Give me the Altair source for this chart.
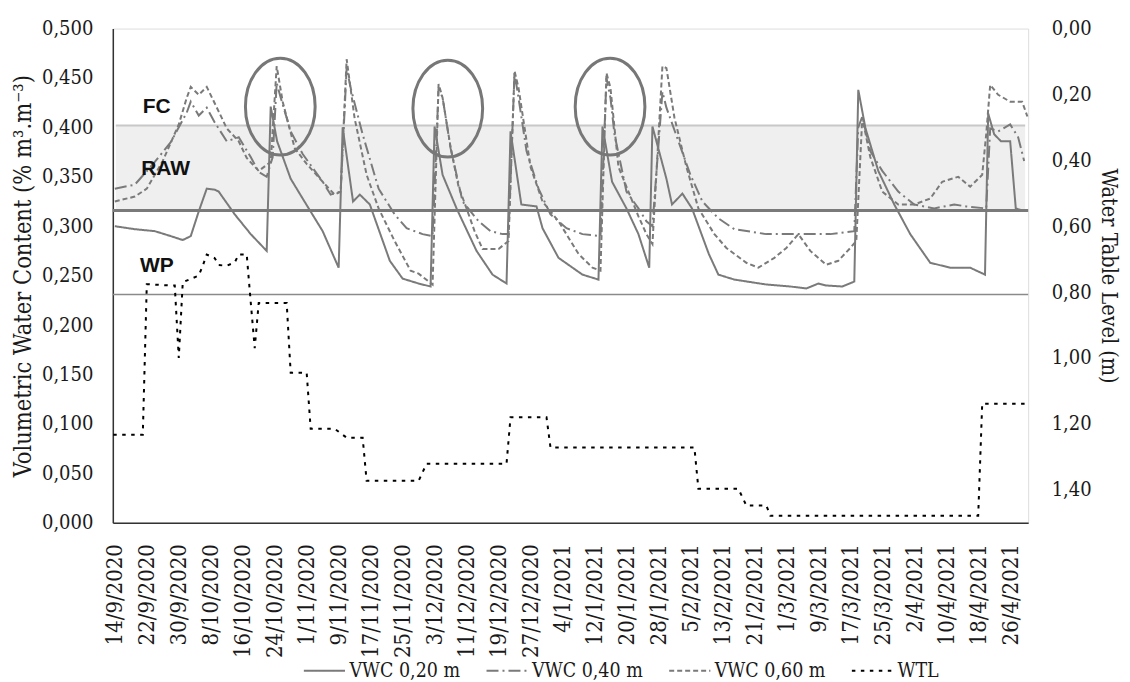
import altair as alt
import pandas as pd

SERIF = "DejaVu Serif Condensed, DejaVu Serif"
SANS = "Liberation Sans"
START = "2020-09-14"

SERIES = ["VWC 0,20 m", "VWC 0,40 m", "VWC 0,60 m", "WTL"]

# day offsets from 14/9/2020 and values
VWC020_DAYS = [0, 5, 10, 14, 17, 19, 21, 23, 25, 26, 30, 34, 38, 39, 40.6, 44, 47, 52, 56, 57,
               59.6, 61.3, 63.8, 68.8, 72, 76, 79, 80, 82, 85.5, 90.5, 94.5, 98, 99, 101.7,
               105.5, 107, 111, 117, 121, 122, 124.4, 128, 131, 133.7, 134.5, 138, 139.4, 142,
               144.4, 148.6, 151, 155, 163, 169, 173, 176, 178, 182, 185, 186, 187.8, 191, 195,
               199, 204, 209, 214, 217.7, 218.5, 220, 221.7, 224, 225.4, 227]
VWC020_VALS = [0.300, 0.297, 0.295, 0.290, 0.286, 0.290, 0.315, 0.338, 0.337, 0.335, 0.312, 0.292,
               0.275, 0.421, 0.386, 0.348, 0.328, 0.295, 0.258, 0.400, 0.325, 0.332, 0.322, 0.265,
               0.247, 0.242, 0.239, 0.401, 0.352, 0.318, 0.275, 0.251, 0.242, 0.396, 0.322, 0.320,
               0.298, 0.268, 0.251, 0.246, 0.401, 0.345, 0.318, 0.292, 0.258, 0.401, 0.348, 0.322,
               0.333, 0.318, 0.272, 0.251, 0.246, 0.241, 0.239, 0.237, 0.242, 0.240, 0.239, 0.244,
               0.438, 0.399, 0.356, 0.322, 0.292, 0.263, 0.258, 0.258, 0.251, 0.414, 0.393, 0.386,
               0.386, 0.318, 0.316]

VWC040_DAYS = [0, 5, 10, 14, 18, 19, 21, 23, 25, 28, 31, 34, 36, 38, 39.5, 40.5, 41.5, 44, 47, 52,
               54, 56.5, 58, 59, 62, 66, 70, 73, 77, 79.5, 81, 82, 84, 87, 91, 94, 97, 98.5, 100,
               101, 103, 106, 109, 113, 117, 121.5, 123, 124, 125, 128, 131, 133, 134.5, 137, 138,
               141, 144, 147, 151, 155, 163, 171, 179, 185, 186, 187, 189, 192, 196, 200, 205,
               210, 213, 218, 219, 221, 224, 226, 227.5]
VWC040_VALS = [0.338, 0.342, 0.365, 0.385, 0.415, 0.426, 0.412, 0.420, 0.405, 0.386, 0.390, 0.370,
               0.355, 0.350, 0.370, 0.445, 0.430, 0.396, 0.373, 0.345, 0.332, 0.335, 0.460, 0.440,
               0.393, 0.338, 0.312, 0.298, 0.292, 0.290, 0.440, 0.430, 0.379, 0.325, 0.305, 0.295,
               0.292, 0.292, 0.455, 0.430, 0.376, 0.338, 0.312, 0.298, 0.292, 0.290, 0.450, 0.430,
               0.393, 0.335, 0.318, 0.305, 0.300, 0.436, 0.420, 0.386, 0.352, 0.325, 0.308, 0.297,
               0.292, 0.292, 0.292, 0.295, 0.400, 0.411, 0.376, 0.356, 0.335, 0.322, 0.318, 0.322,
               0.320, 0.318, 0.399, 0.396, 0.403, 0.390, 0.366]

VWC060_DAYS = [0, 5, 8, 12, 16, 18, 19, 21, 23, 26, 28, 31, 33, 36, 39, 40.5, 42, 45, 48, 52, 55,
               56.5, 58, 60, 63, 66, 70, 74, 76, 79.5, 81, 82, 84, 86, 88, 90, 92, 96, 98.5, 100,
               101, 104, 107, 111, 116, 119.5, 121.5, 123, 124, 126, 129, 131, 133, 134.5, 137,
               138, 140, 143, 146, 150, 153, 158, 161, 165, 168, 171, 174, 178, 181, 184, 185.5,
               187, 189, 192, 196, 200, 204, 207, 211, 214, 217, 218, 219, 221, 224, 227, 228.3]
VWC060_VALS = [0.325, 0.330, 0.338, 0.366, 0.403, 0.430, 0.441, 0.433, 0.441, 0.416, 0.399, 0.386,
               0.369, 0.356, 0.365, 0.462, 0.426, 0.379, 0.363, 0.345, 0.332, 0.335, 0.469, 0.409,
               0.352, 0.318, 0.285, 0.255, 0.252, 0.241, 0.444, 0.430, 0.380, 0.340, 0.318, 0.295,
               0.277, 0.277, 0.285, 0.457, 0.440, 0.360, 0.325, 0.305, 0.272, 0.258, 0.255, 0.455,
               0.440, 0.360, 0.330, 0.310, 0.292, 0.282, 0.462, 0.460, 0.410, 0.360, 0.318, 0.292,
               0.278, 0.263, 0.258, 0.268, 0.278, 0.292, 0.275, 0.261, 0.265, 0.278, 0.285, 0.410,
               0.370, 0.335, 0.322, 0.322, 0.328, 0.345, 0.350, 0.340, 0.352, 0.393, 0.443, 0.433,
               0.426, 0.426, 0.411]

WTL_DAYS = [-0.4, 7, 8, 14, 15, 16, 17, 19, 21, 22, 23, 25, 26, 28, 30, 31, 33, 34, 35, 36, 43,
            44, 48, 49, 55, 58, 62, 63, 76, 78, 98, 99, 108, 109, 145, 146, 156, 158, 163, 164,
            216, 217, 228.4]
WTL_VALS = [1.233, 1.233, 0.776, 0.780, 0.780, 1.000, 0.770, 0.760, 0.750, 0.720, 0.686, 0.697,
            0.718, 0.720, 0.710, 0.686, 0.686, 0.830, 0.970, 0.833, 0.833, 1.045, 1.045, 1.215,
            1.215, 1.242, 1.242, 1.373, 1.373, 1.321, 1.321, 1.180, 1.180, 1.272, 1.272, 1.397,
            1.397, 1.448, 1.448, 1.479, 1.479, 1.139, 1.139]

TICK_LABELS = ["14/9/2020", "22/9/2020", "30/9/2020", "8/10/2020", "16/10/2020", "24/10/2020",
               "1/11/2020", "9/11/2020", "17/11/2020", "25/11/2020", "3/12/2020", "11/12/2020",
               "19/12/2020", "27/12/2020", "4/1/2021", "12/1/2021", "20/1/2021", "28/1/2021",
               "5/2/2021", "13/2/2021", "21/2/2021", "1/3/2021", "9/3/2021", "17/3/2021",
               "25/3/2021", "2/4/2021", "10/4/2021", "18/4/2021", "26/4/2021"]

LEFT_TICKS = [0, 0.05, 0.1, 0.15, 0.2, 0.25, 0.3, 0.35, 0.4, 0.45, 0.5]
RIGHT_TICKS = [0, 0.2, 0.4, 0.6, 0.8, 1.0, 1.2, 1.4]

FC, RAW_LOW, WP = 0.402, 0.316, 0.231
LABEL_TEXT = ["FC", "RAW", "WP"]
LABEL_DAYS = [10.5, 12.7, 10.5]
LABEL_VALS = [0.421, 0.358, 0.260]

CIRCLE_DAYS = [41.4, 83.3, 123.9]
CIRCLE_VALS = [0.421, 0.419, 0.421]


def to_dates(days):
    t = pd.Timestamp(START) + pd.to_timedelta(days, unit="D")
    return list(t.strftime("%Y-%m-%dT%H:%M:%SZ"))


def frame(days, vals, name):
    return pd.DataFrame({"date": to_dates(days), "value": vals, "series": name})


vwc = pd.concat([
    frame(VWC020_DAYS, VWC020_VALS, SERIES[0]),
    frame(VWC040_DAYS, VWC040_VALS, SERIES[1]),
    frame(VWC060_DAYS, VWC060_VALS, SERIES[2]),
], ignore_index=True)
wtl = frame(WTL_DAYS, WTL_VALS, SERIES[3])
labels_df = pd.DataFrame({"date": to_dates(LABEL_DAYS), "value": LABEL_VALS, "text": LABEL_TEXT})
circles_df = pd.DataFrame({"date": to_dates(CIRCLE_DAYS), "value": CIRCLE_VALS})
band_df = pd.DataFrame({"value": [RAW_LOW], "value2": [FC]})


def dt(s):
    d, m, y = [int(p) for p in s.split("/")]
    return alt.DateTime(year=y, month=m, date=d, utc=True)


x_enc = alt.X(
    "date:T",
    scale=alt.Scale(type="utc", domain=[
        alt.DateTime(year=2020, month=9, date=13, hours=12, utc=True),
        alt.DateTime(year=2021, month=4, date=30, hours=12, utc=True)]),
    axis=alt.Axis(
        values=[dt(s) for s in TICK_LABELS],
        labelExpr="utcdate(datum.value) + '/' + (utcmonth(datum.value) + 1) + '/' + utcyear(datum.value)",
        labelAngle=-90, ticks=False, title=None, labelOverlap=False, labelFlush=False,
        domainColor="#333333", domainWidth=1.5, labelFont=SERIF, labelFontSize=22,
        labelColor="#1a1a1a", labelPadding=21, grid=False),
)

left_axis = alt.Axis(
    values=LEFT_TICKS, labelExpr="replace(format(datum.value, '.3f'), '.', ',')",
    ticks=False, grid=False, domainColor="#333333", domainWidth=1.5,
    labelFont=SERIF, labelFontSize=20, labelColor="#1a1a1a", labelPadding=20,
    title="Volumetric Water Content (% m³.m⁻³)", titleFont=SERIF, titleFontSize=23.5,
    titleFontWeight="normal", titleColor="#1a1a1a", titlePadding=6)

y_left = alt.Y("value:Q", scale=alt.Scale(domain=[0, 0.5]), axis=left_axis)

legend = alt.Legend(
    orient="none", legendX=190, legendY=621, direction="horizontal", title=None,
    symbolType="stroke", symbolSize=1700, labelFont=SERIF, labelFontSize=19.5,
    labelColor="#1a1a1a", columnPadding=22, labelOffset=3)

color_scale = alt.Scale(domain=SERIES, range=["#7a7a7a", "#7a7a7a", "#7a7a7a", "#000000"])
dash_scale = alt.Scale(domain=SERIES, range=[[1, 0], [12, 4, 2, 4], [5, 3], [3.5, 5.5]])
width_scale = alt.Scale(domain=SERIES, range=[2, 2, 2, 4.5])

series_enc = dict(
    color=alt.Color("series:N", scale=color_scale, legend=legend),
    strokeDash=alt.StrokeDash("series:N", scale=dash_scale, legend=legend),
    strokeWidth=alt.StrokeWidth("series:O", scale=width_scale, legend=legend),
)

band = alt.Chart(band_df).mark_rect(color="#efefef").encode(
    x=alt.value(3), x2=alt.value(914), y=y_left, y2="value2:Q")

rules_df = pd.DataFrame({"value": [FC, RAW_LOW, WP], "kind": ["FC", "RAW", "WP"]})
rule_fc = alt.Chart(rules_df[rules_df.kind == "FC"]).mark_rule(color="#c8c8c8", strokeWidth=2).encode(
    y=y_left, x=alt.value(3), x2=alt.value(914))
rule_raw = alt.Chart(rules_df[rules_df.kind == "RAW"]).mark_rule(color="#7a7a7a", strokeWidth=3).encode(
    y=y_left)
rule_wp = alt.Chart(rules_df[rules_df.kind == "WP"]).mark_rule(color="#8a8a8a", strokeWidth=1.5).encode(
    y=y_left)

vwc_lines = alt.Chart(vwc).mark_line().encode(
    x=x_enc, y=y_left, detail="series:N", **series_enc)

texts = alt.Chart(labels_df).mark_text(
    font=SANS, fontWeight="bold", fontSize=21, color="#111111", align="center", baseline="middle"
).encode(x=x_enc, y=y_left, text="text:N")

ellipse_path = "M 0 -1 A 0.72 1 0 1 1 0 1 A 0.72 1 0 1 1 0 -1 Z"
circles = alt.Chart(circles_df).mark_point(
    shape=ellipse_path, size=9409, filled=False, color="#777777", strokeWidth=3, opacity=1
).encode(x=x_enc, y=y_left)

left = alt.layer(band, rule_fc, rule_raw, rule_wp, vwc_lines, circles, texts)

right_axis = alt.Axis(
    orient="right", values=RIGHT_TICKS, labelExpr="replace(format(datum.value, '.2f'), '.', ',')",
    ticks=False, grid=False, domain=False, labelFont=SERIF, labelFontSize=20,
    labelColor="#1a1a1a", labelPadding=23,
    title="Water Table Level (m)", titleFont=SERIF, titleFontSize=21.5,
    titleFontWeight="normal", titleColor="#1a1a1a", titlePadding=5)

wtl_line = alt.Chart(wtl).mark_line().encode(
    x=x_enc,
    y=alt.Y("value:Q", scale=alt.Scale(domain=[0, 1.5], reverse=True), axis=right_axis),
    **series_enc)

chart = alt.layer(left, wtl_line).resolve_scale(y="independent").properties(
    width=917, height=495, padding={"left": 3, "top": 10, "right": 3, "bottom": 0}
).configure_view(stroke="#777777", strokeWidth=1.5).configure(background="white")

chart.save("out.html", embed_options={"renderer": "svg", "actions": False})
